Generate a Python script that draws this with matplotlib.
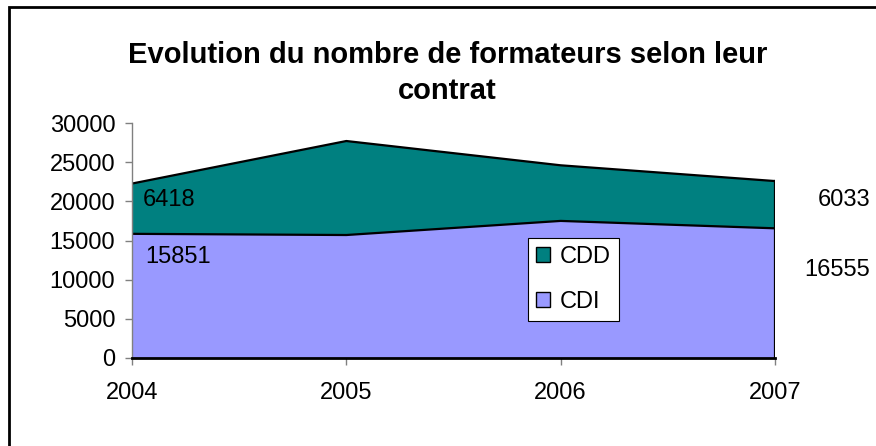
import matplotlib
matplotlib.use('Agg')
import matplotlib.pyplot as plt
from matplotlib.patches import Rectangle, Patch

plt.rcParams['font.family'] = ['Liberation Sans', 'DejaVu Sans']

# Donnees
annees = ['2004', '2005', '2006', '2007']
cdi = [15851, 15700, 17500, 16555]
cdd = [6418, 12000, 7100, 6033]
total = [a + b for a, b in zip(cdi, cdd)]
x = list(range(len(annees)))

col_cdi = '#9999FF'
col_cdd = '#008080'
fs = 17

fig = plt.figure(figsize=(8.76, 4.46), dpi=100)
ax = fig.add_axes([132 / 876, 1 - 358 / 446, (775 - 132) / 876, (358 - 123) / 446])

ax.fill_between(x, 0, cdi, facecolor=col_cdi, edgecolor='none')
ax.fill_between(x, cdi, total, facecolor=col_cdd, edgecolor='none')
ax.plot(x, cdi, color='black', lw=1.6)
ax.plot(x, total, color='black', lw=1.6)
ax.plot([x[-1], x[-1]], [0, total[-1]], color='black', lw=1.6)

ax.set_xlim(x[0], x[-1])
ax.set_ylim(0, 30000)
ax.set_yticks(range(0, 30001, 5000))
ax.set_xticks(x)
ax.set_xticklabels(annees)

for s in ['top', 'right']:
    ax.spines[s].set_visible(False)
ax.spines['left'].set_color('#808080')
ax.spines['left'].set_linewidth(1)
ax.spines['bottom'].set_color('black')
ax.spines['bottom'].set_linewidth(2)
ax.tick_params(axis='y', length=5, width=1, color='#808080', pad=7, labelsize=fs)
ax.tick_params(axis='x', length=5, width=1, color='#808080', pad=12, labelsize=fs)

# Etiquettes de valeurs
ax.annotate(str(cdd[0]), xy=(x[0], cdi[0] + cdd[0] / 2), xytext=(11, 9),
            textcoords='offset pixels', ha='left', va='center', fontsize=fs)
ax.annotate(str(cdi[0]), xy=(x[0], cdi[0]), xytext=(13, -23),
            textcoords='offset pixels', ha='left', va='center', fontsize=fs)
ax.annotate(str(cdd[-1]), xy=(x[-1], cdi[-1] + cdd[-1] / 2), xytext=(95, 5),
            textcoords='offset pixels', ha='right', va='center', fontsize=fs,
            annotation_clip=False)
ax.annotate(str(cdi[-1]), xy=(x[-1], cdi[-1]), xytext=(95, -42),
            textcoords='offset pixels', ha='right', va='center', fontsize=fs,
            annotation_clip=False)

handles = [Patch(facecolor=col_cdd, edgecolor='black', label='CDD'),
           Patch(facecolor=col_cdi, edgecolor='black', label='CDI')]
leg = ax.legend(handles=handles, loc='upper left',
                bbox_to_anchor=((528 - 132) / 643, (358 - 238) / 235),
                fontsize=fs, frameon=True, fancybox=False, framealpha=1,
                handlelength=0.6, handleheight=0.6, handletextpad=0.4,
                labelspacing=0.95, borderpad=0.35, borderaxespad=0)
leg.get_frame().set_edgecolor('black')
leg.get_frame().set_linewidth(0.8)

fig.text(0.511, 1 - 73 / 446, 'Evolution du nombre de formateurs selon leur\ncontrat',
         ha='center', va='center', fontsize=21, fontweight='bold', linespacing=1.35)

fig.add_artist(Rectangle((9 / 876, -0.2), 1.5, 1 - 7 / 446 + 0.2,
                         transform=fig.transFigure, fill=False,
                         edgecolor='black', lw=2))

fig.savefig('out.png', dpi=100)
